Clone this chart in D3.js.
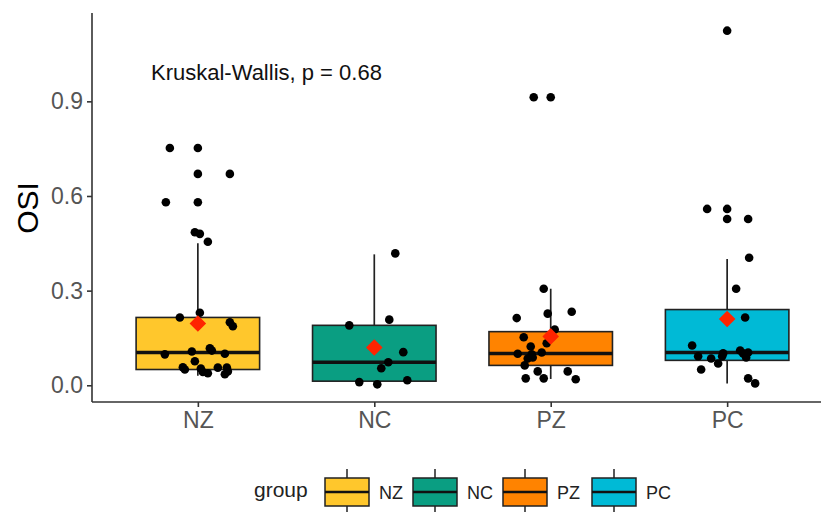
<!DOCTYPE html>
<html>
<head>
<meta charset="utf-8">
<script src="https://cdn.jsdelivr.net/npm/d3@7"></script>
<style>
  body { margin: 0; background: #fff; }
  text { font-family: "Liberation Sans", Arial, sans-serif; }
</style>
</head>
<body>
<svg width="821" height="512"></svg>
<script>
// groups and fills
var groups = ["NZ", "NC", "PZ", "PC"];
var fills = ["#FFC72C", "#0A9E82", "#FF8300", "#00BAD6"];

// box stats per group: [lowWhisker, q1, median, q3, highWhisker]
var boxNZ = [0.03, 0.05, 0.104, 0.215, 0.45];
var boxNC = [0.003, 0.013, 0.073, 0.19, 0.415];
var boxPZ = [0.02, 0.063, 0.101, 0.17, 0.306];
var boxPC = [0.006, 0.079, 0.104, 0.24, 0.40];
var means = [0.196, 0.12, 0.155, 0.21];

// jittered points: value and horizontal jitter (in pixels)
var ptsNZ = [0.752,0.752,0.67,0.67,0.58,0.58,0.485,0.48,0.455,0.23,0.215,0.2,0.187,0.098,0.107,0.117,0.11,0.10,0.076,0.057,0.05,0.053,0.042,0.038,0.056,0.056,0.044,0.035];
var jitNZ = [-28,0,0,32,-32,0,-3,2,10,2,-18,32,35,-33,-6,12,14,27,-3,-15,-13,3,5,10,20,29,30,27];
var ptsNC = [0.418,0.19,0.208,0.105,0.073,0.054,0.01,0.003,0.016];
var jitNC = [21,-25,15,29,14,7,-15,3,33];
var ptsPZ = [0.913,0.913,0.306,0.233,0.227,0.213,0.177,0.152,0.133,0.123,0.10,0.104,0.098,0.085,0.088,0.063,0.044,0.044,0.022,0.022,0.019];
var jitPZ = [-17,0,-7,21,-3,-34,4,-27,-4,-20,-33,-9,-19,-23,-18,-26,-13,17,-25,-7,25];
var ptsPC = [1.124,0.559,0.559,0.527,0.527,0.404,0.306,0.215,0.126,0.092,0.085,0.069,0.092,0.101,0.11,0.101,0.104,0.088,0.05,0.022,0.006];
var jitPC = [0,-20,0,0,21,22,9,18,-35,-29,-16,-9,-5,-4,13,16,21,19,-26,21,28];

var yTicks = [0.0, 0.3, 0.6, 0.9];

var boxes = [boxNZ, boxNC, boxPZ, boxPC];
var pts = [ptsNZ, ptsNC, ptsPZ, ptsPC];
var jits = [jitNZ, jitNC, jitPZ, jitPC];

var svg = d3.select("svg");
var mLeft = 92, mRight = 833, mTop = 13, mBottom = 402;

var x = d3.scalePoint().domain(groups).range([mLeft, mRight]).padding(0.6);
var y = d3.scaleLinear().domain([-0.053, 1.18]).range([mBottom, mTop]);
var boxW = x.step() * 0.7;

var g = svg.append("g");

// boxes
groups.forEach(function(grp, i) {
  var b = boxes[i], cx = x(grp);
  g.append("line")
    .attr("x1", cx).attr("x2", cx)
    .attr("y1", y(b[0])).attr("y2", y(b[4]))
    .style("stroke", "#222").style("stroke-width", 1.7);
  g.append("rect")
    .attr("x", cx - boxW / 2).attr("width", boxW)
    .attr("y", y(b[3])).attr("height", y(b[1]) - y(b[3]))
    .style("fill", fills[i]).style("stroke", "#222").style("stroke-width", 1.6);
  g.append("line")
    .attr("x1", cx - boxW / 2).attr("x2", cx + boxW / 2)
    .attr("y1", y(b[2])).attr("y2", y(b[2]))
    .style("stroke", "#111").style("stroke-width", 3.5);
});

// points
groups.forEach(function(grp, i) {
  g.selectAll(".pt" + i)
    .data(pts[i])
    .enter().append("circle")
    .attr("cx", function(d, j) { return x(grp) + jits[i][j]; })
    .attr("cy", function(d) { return y(d); })
    .attr("r", 4.3)
    .style("fill", "#000");
});

// means
var diamond = d3.symbol().type(d3.symbolDiamond2).size(175);
g.selectAll(".mean")
  .data(means)
  .enter().append("path")
  .attr("d", diamond)
  .attr("transform", function(d, i) { return "translate(" + x(groups[i]) + "," + y(d) + ")"; })
  .style("fill", "#FF2400");

// axes
var yAxis = svg.append("g")
  .attr("transform", "translate(" + mLeft + ",0)")
  .call(d3.axisLeft(y).tickValues(yTicks).tickFormat(d3.format(".1f")).tickSizeOuter(0).tickSize(5));
yAxis.select(".domain").attr("d", "M0," + mTop + "V" + mBottom);

var xAxis = svg.append("g")
  .attr("transform", "translate(0," + mBottom + ")")
  .call(d3.axisBottom(x).tickSizeOuter(0).tickSize(5));
xAxis.select(".domain").attr("d", "M" + mLeft + ",0H" + mRight);

svg.selectAll(".domain, .tick line").style("stroke", "#333").style("stroke-width", 1.6);
yAxis.selectAll("text").style("font-size", "23px").style("fill", "#555").attr("x", -9);
xAxis.selectAll("text").style("font-size", "23px").style("fill", "#555").attr("y", 10);

// y title
svg.append("text")
  .attr("transform", "translate(38," + 208 + ") rotate(-90)")
  .attr("text-anchor", "middle")
  .style("font-size", "30px")
  .style("fill", "#000")
  .text("OSI");

// annotation
svg.append("text")
  .attr("x", 151).attr("y", 80)
  .style("font-size", "22px")
  .style("fill", "#111")
  .text("Kruskal-Wallis, p = 0.68");

// legend
var leg = svg.append("g");
leg.append("text").attr("x", 254).attr("y", 497)
  .style("font-size", "21px").style("fill", "#222").text("group");
var keyX = [325, 413, 503, 592];
groups.forEach(function(grp, i) {
  var k = leg.append("g").attr("transform", "translate(" + keyX[i] + ",0)");
  k.append("line").attr("x1", 22).attr("x2", 22).attr("y1", 469).attr("y2", 512)
    .style("stroke", "#222").style("stroke-width", 1.5);
  k.append("rect").attr("x", 0).attr("y", 478).attr("width", 44).attr("height", 28)
    .style("fill", fills[i]).style("stroke", "#222").style("stroke-width", 1.5);
  k.append("line").attr("x1", 0).attr("x2", 44).attr("y1", 492).attr("y2", 492)
    .style("stroke", "#111").style("stroke-width", 2.5);
  k.append("text").attr("x", 54).attr("y", 499)
    .style("font-size", "18px").style("fill", "#222").text(grp);
});
</script>
</body>
</html>
